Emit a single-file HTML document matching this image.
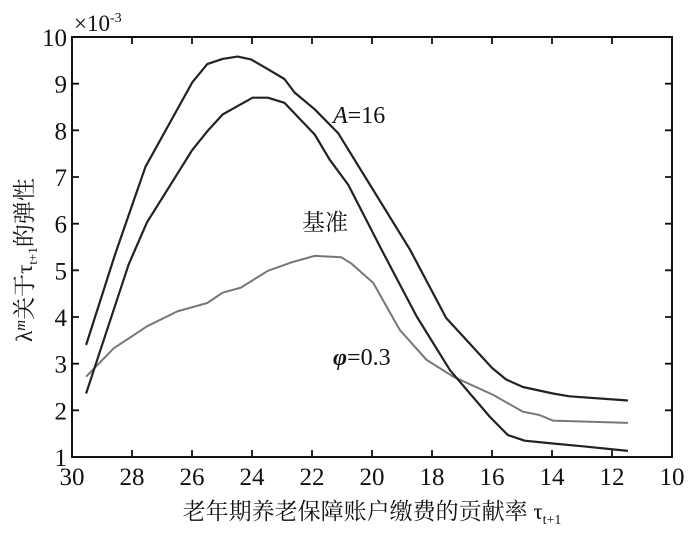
<!DOCTYPE html>
<html><head><meta charset="utf-8"><style>
body{margin:0;background:#fff;}
.lat{font-family:"Liberation Serif","DejaVu Serif",serif;}
.cjk{font-family:"Liberation Serif","Noto Serif CJK SC","Noto Sans CJK SC",serif;}
svg text{fill:#111;}
</style></head><body>
<svg id="chart" width="700" height="530" viewBox="0 0 700 530" xmlns="http://www.w3.org/2000/svg">
<g id="axes"></g><g id="series"></g>
<text class="lat" x="74" y="31" font-size="23">×10<tspan font-size="14" dy="-9">-3</tspan></text>
<text class="lat" x="333" y="123" font-size="24"><tspan font-style="italic">A</tspan>=16</text>
<text class="cjk" x="302" y="230" font-size="23">基准</text>
<text class="lat" x="333" y="365" font-size="24"><tspan font-weight="bold" font-style="italic">φ</tspan>=0.3</text>
<text class="cjk" transform="translate(32,260) rotate(-90)" text-anchor="middle" font-size="23">λ<tspan font-style="italic" font-size="15" dy="-7">m</tspan><tspan dy="7">关于τ</tspan><tspan font-size="13" dy="5">t+1</tspan><tspan dy="-5">的弹性</tspan></text>
<text class="cjk" x="372" y="519" text-anchor="middle" font-size="23">老年期养老保障账户缴费的贡献率 τ<tspan font-size="14" dy="5">t+1</tspan></text>
</svg>
<script>
const xTicks=[30,28,26,24,22,20,18,16,14,12,10];
const yTicks=[1,2,3,4,5,6,7,8,9,10];
const xA16=[29.53,28.56,27.55,25.99,25.49,24.98,24.48,24.03,23.47,22.92,22.58,21.91,21.13,18.73,17.53,16.0,15.53,14.97,13.97,13.42,11.47];
const yA16=[3.40,5.35,7.22,9.03,9.42,9.53,9.58,9.52,9.31,9.10,8.81,8.45,7.94,5.44,3.98,2.91,2.66,2.50,2.36,2.30,2.21];
const xBase=[29.53,28.11,27.5,26.72,25.99,25.49,24.98,24.48,23.98,23.47,22.92,21.91,21.41,20.79,19.68,18.51,17.4,16.07,15.47,14.91,13.97,12.97,11.47];
const yBase=[2.36,5.13,6.03,6.83,7.58,7.98,8.34,8.52,8.70,8.70,8.59,7.91,7.37,6.83,5.44,4.01,2.86,1.86,1.47,1.35,1.29,1.23,1.13];
const xPhi=[29.53,28.61,27.5,26.49,25.49,24.98,24.37,23.47,22.69,21.91,21.02,20.7,19.96,19.07,18.18,17.29,15.96,14.97,14.42,13.97,11.47];
const yPhi=[2.72,3.33,3.80,4.12,4.30,4.52,4.63,4.99,5.17,5.31,5.28,5.15,4.73,3.72,3.08,2.72,2.33,1.97,1.90,1.78,1.73];
const L=72,R=672,T=37,B=457;
const sx=v=>L+(30-v)/20*(R-L);
const sy=v=>B-(v-1)/9*(B-T);
const NS='http://www.w3.org/2000/svg';
const ax=document.getElementById('axes'),se=document.getElementById('series');
function mk(t,a,p){const e=document.createElementNS(NS,t);for(const k in a)e.setAttribute(k,a[k]);p.appendChild(e);return e;}
const frame=mk('rect',{x:L,y:T,width:R-L,height:B-T,fill:'none',stroke:'#111','stroke-width':2},ax);


let td='';
xTicks.forEach(v=>{
 const x=sx(v);
 if(v!==30&&v!==10){td+='M'+x+','+B+'V'+(B-7)+'M'+x+','+T+'V'+(T+7);}
 const t=mk('text',{x:x,y:B+28,'text-anchor':'middle','font-size':25,'class':'lat'},ax);
 t.textContent=v;
 
 
});
yTicks.forEach(v=>{
 const y=sy(v);
 if(v!==1&&v!==10){td+='M'+L+','+y+'H'+(L+7)+'M'+R+','+y+'H'+(R-7);}
 const t=mk('text',{x:L-5,y:y+9,'text-anchor':'end','font-size':25,'class':'lat'},ax);
 t.textContent=v;
 
 
});
const tk=mk('path',{d:td,stroke:'#111','stroke-width':1.8,fill:'none'},ax);


function line(xs,ys,col,w,name){
 const d=xs.map((x,i)=>(i?'L':'M')+sx(x).toFixed(1)+','+sy(ys[i]).toFixed(1)).join('');
 const p=mk('path',{d:d,fill:'none',stroke:col,'stroke-width':w,'stroke-linejoin':'round'},se);
 
 
}
line(xPhi,yPhi,'#777',2,'series-phi-0-3');
line(xA16,yA16,'#222',2.2,'series-a-16');
line(xBase,yBase,'#222',2.2,'series-baseline');
</script>
</body></html>
